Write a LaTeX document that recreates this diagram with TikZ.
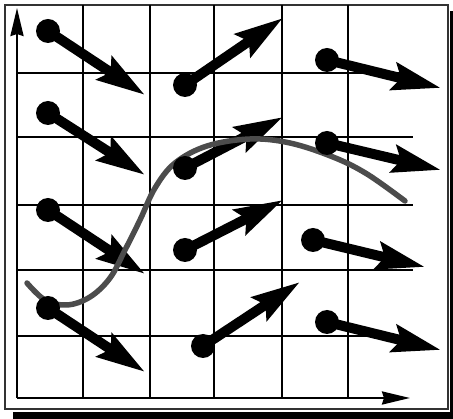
\documentclass[tikz,border=0pt]{standalone}
\usetikzlibrary{arrows.meta}
\begin{document}
\begin{tikzpicture}[x=1pt,y=-1pt,
  gridline/.style={line width=2.4pt},
  dot/.style={circle,fill=black,inner sep=0pt,minimum size=24pt},
  vec/.style={line width=10pt,-{Stealth[length=48pt,width=27pt,inset=7pt]}},
  axis/.style={line width=2.4pt,-{Stealth[length=28pt,width=13pt,inset=2pt]}},
  curvestyle/.style={line width=5.5pt,draw=black!70,line cap=round},
  framestyle/.style={line width=2pt,draw=black!80}]
\useasboundingbox (0,0) rectangle (453,419);
% shadow
\fill[black] (13,412) rectangle (453,419);
\fill[black] (450,11) rectangle (453,419);
% frame
\draw[framestyle] (5,5) rectangle (448,409);
% grid
\foreach \x in {83,150,214,282,348} \draw[gridline] (\x,5) -- (\x,398);
\foreach \y in {73,137,205,270,336} \draw[gridline] (17,\y) -- (413,\y);
% axes
\coordinate (o) at (17,398);
\coordinate (ytip) at (17,8);
\coordinate (xtip) at (410,398);
\draw[axis] (o) -- (ytip);
\draw[axis] (o) -- (xtip);
% dot centres and tips
\coordinate (d1) at (48,31);   \coordinate (t1) at (145,95);
\coordinate (d2) at (48,113);  \coordinate (t2) at (145,175);
\coordinate (d3) at (48,210);  \coordinate (t3) at (145,274);
\coordinate (d4) at (48,308);  \coordinate (t4) at (145,372);
\coordinate (d5) at (185,85);  \coordinate (t5) at (283,18);
\coordinate (d6) at (185,168); \coordinate (t6) at (283,117);
\coordinate (d7) at (185,250); \coordinate (t7) at (283,200);
\coordinate (d8) at (203,346); \coordinate (t8) at (300,282);
\coordinate (d9) at (327,60);  \coordinate (t9) at (441,88);
\coordinate (d10) at (327,143); \coordinate (t10) at (441,170);
\coordinate (d11) at (313,240); \coordinate (t11) at (425,267);
\coordinate (d12) at (327,322); \coordinate (t12) at (441,350);
\foreach \i in {1,...,12} \draw[vec] (d\i) -- (t\i);
% curve
\draw[curvestyle] plot[smooth,tension=0.6] coordinates {(27,283) (45,300) (67,305) (90,297) (110,278) (125,250) (140,220) (155,188) (175,163) (207,146) (250,139) (290,143) (333,157) (367,174) (405,201)};
% dots
\foreach \i in {1,...,12} \node[dot] (n\i) at (d\i) {};
\end{tikzpicture}
\end{document}
